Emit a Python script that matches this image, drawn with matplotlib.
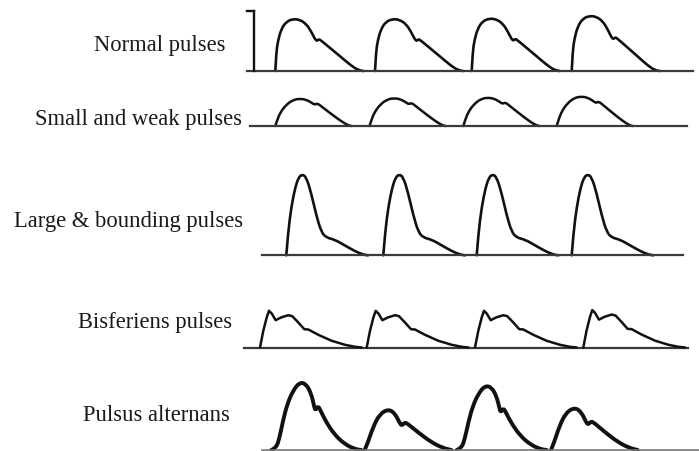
import matplotlib
matplotlib.use("Agg")
import matplotlib.pyplot as plt
from matplotlib.path import Path
from matplotlib.patches import PathPatch
import numpy as np

# ---------------- data ----------------
row_labels = ["Normal pulses", "Small and weak pulses", "Large & bounding pulses",
              "Bisferiens pulses", "Pulsus alternans"]

# pulse templates: time after onset, height above baseline
normal_t = [0, 1, 2.7, 6, 11, 17.7, 24.4, 31, 36, 41, 43.4, 46, 56, 66, 76, 82.7, 88]
normal_h = [0, 18.7, 30.3, 42, 49.3, 52, 51.3, 47, 39.3, 29.3, 32, 30.3, 22, 13.7, 5.3, 1, 0]
normal_onsets = [275.3, 375, 471.7, 571.7]
normal_scale = [1.0, 1.0, 1.01, 1.06]

weak_t = [0, 2, 5.3, 11, 17.7, 24.3, 31, 36.7, 39.3, 42, 46, 56, 66, 72.7, 76]
weak_h = [0, 6.3, 14, 21.3, 26, 27.3, 26.3, 23, 21.3, 22.7, 19.7, 12, 4.7, 0.7, 0]
weak_onsets = [275.3, 369.5, 463.3, 556.7]
weak_scale = [1.0, 1.02, 1.04, 1.08]

bound_t = [0, 1.7, 5, 9, 12.3, 15.7, 20, 25, 30, 35, 40, 48.3, 58.3, 68.3, 76.7, 81.7]
bound_h = [0, 21.7, 48.3, 68.3, 77.7, 81, 78.3, 61.7, 40, 23.3, 17.7, 15.7, 10, 4.3, 0.7, 0]
bound_onsets = [286.3, 383.3, 476.7, 571.7]
bound_scale = [1.0, 1.0, 1.0, 1.0]

bisf_t = [0, 3.3, 6.7, 9, 11.7, 15.7, 21, 28.3, 32.3, 38.3, 44.3, 48.3, 58.3, 71.7, 85, 95, 101.7]
bisf_h = [0, 16.7, 30, 36.7, 34, 27.3, 30, 32.3, 31.3, 25, 18.3, 18, 12.7, 6.7, 2.7, 0.7, 0]
bisf_onsets = [260, 366.7, 475, 583.3]
bisf_scale = [1.0, 1.0, 1.0, 1.02]

alt_strong_t = [0, 5, 8.3, 11.7, 16, 21.7, 28.3, 35, 40, 42.7, 44, 46.7, 49.3, 55, 63.3, 73.3, 83.3, 90]
alt_strong_h = [0, 2, 12.7, 29.3, 46, 59.3, 67.7, 66, 56, 44.3, 39.3, 44.3, 39.3, 27.7, 15.3, 6, 1, 0]
alt_weak_t = [0, 3.3, 8.3, 15, 24, 30.7, 35, 37.3, 40, 43.3, 53.3, 66.7, 78.3, 86.7]
alt_weak_h = [0, 7.7, 22.7, 36, 41, 36, 26.7, 24.3, 27.7, 26, 17.7, 7.7, 2, 0]
alt_onsets = [271.3, 364.7, 456.7, 551]
alt_kind = ["strong", "weak", "strong", "weak"]
alt_scale = [1.0, 1.0, 0.95, 1.04]

# ---------------- layout ----------------
W, H = 699, 452
fig = plt.figure(figsize=(W / 100, H / 100), dpi=100)
fig.patch.set_facecolor("white")

ink = "#111111"
base_col = "#3a3a3a"


def row_axes(baseline_y):
    pad = 6
    ax = fig.add_axes([0, (H - baseline_y - pad) / H, 1, 110 / H])
    ax.set_xlim(0, W)
    ax.set_ylim(-pad, 110 - pad)
    ax.axis("off")
    return ax


def smooth_path(x, y):
    pts = np.column_stack([x, y])
    verts = [pts[0]]
    codes = [Path.MOVETO]
    for i in range(1, len(pts) - 1):
        verts += [pts[i], (pts[i] + pts[i + 1]) / 2]
        codes += [Path.CURVE3, Path.CURVE3]
    verts.append(pts[-1])
    codes.append(Path.LINETO)
    return Path(verts, codes)


def draw_beats(ax, onsets, scales, templates, lw, smooth=True):
    for on, sc, (tt, hh) in zip(onsets, scales, templates):
        xs = np.array(tt) + on
        ys = np.array(hh) * sc
        if smooth:
            ax.add_patch(PathPatch(smooth_path(xs, ys), facecolor="none", edgecolor=ink,
                                   lw=lw, joinstyle="round", capstyle="round", clip_on=False))
        else:
            ax.plot(xs, ys, color=ink, lw=lw, solid_joinstyle="round",
                    solid_capstyle="round", clip_on=False)


# Row 1: normal
ax = row_axes(72)
ax.plot([247, 693], [0, 0], color=base_col, lw=1.6, clip_on=False)
ax.plot([254, 254], [0, 60], color=ink, lw=1.7, clip_on=False)
ax.plot([247, 254], [60, 60], color=ink, lw=1.7, clip_on=False)
draw_beats(ax, normal_onsets, normal_scale, [(normal_t, normal_h)] * 4, 1.9)

# Row 2: small and weak
ax = row_axes(127)
ax.plot([250, 687], [0, 0], color=base_col, lw=1.6, clip_on=False)
draw_beats(ax, weak_onsets, weak_scale, [(weak_t, weak_h)] * 4, 1.8)

# Row 3: large and bounding
ax = row_axes(256.3)
ax.plot([262, 683], [0, 0], color=base_col, lw=1.6, clip_on=False)
draw_beats(ax, bound_onsets, bound_scale, [(bound_t, bound_h)] * 4, 1.9)

# Row 4: bisferiens
ax = row_axes(348.5)
ax.plot([244, 688], [0, 0], color=base_col, lw=1.6, clip_on=False)
draw_beats(ax, bisf_onsets, bisf_scale, [(bisf_t, bisf_h)] * 4, 1.8, smooth=False)

# Row 5: pulsus alternans
ax = row_axes(451)
ax.plot([262, 699], [0, 0], color="#777777", lw=1.2, clip_on=False)
alt_templates = [(alt_strong_t, alt_strong_h) if k == "strong" else (alt_weak_t, alt_weak_h)
                 for k in alt_kind]
draw_beats(ax, alt_onsets, alt_scale, alt_templates, 2.8)

# Labels
label_right = [225, 242, 243, 232, 230]
label_base = [51.5, 125, 226.7, 328.3, 420.7]
for lab, xr, yb in zip(row_labels, label_right, label_base):
    fig.text(xr / W, 1 - yb / H, lab, ha="right", va="baseline",
             fontsize=16.3, family="Liberation Serif", color="#1a1a1a")

fig.savefig("out.png", dpi=100, facecolor="white")
